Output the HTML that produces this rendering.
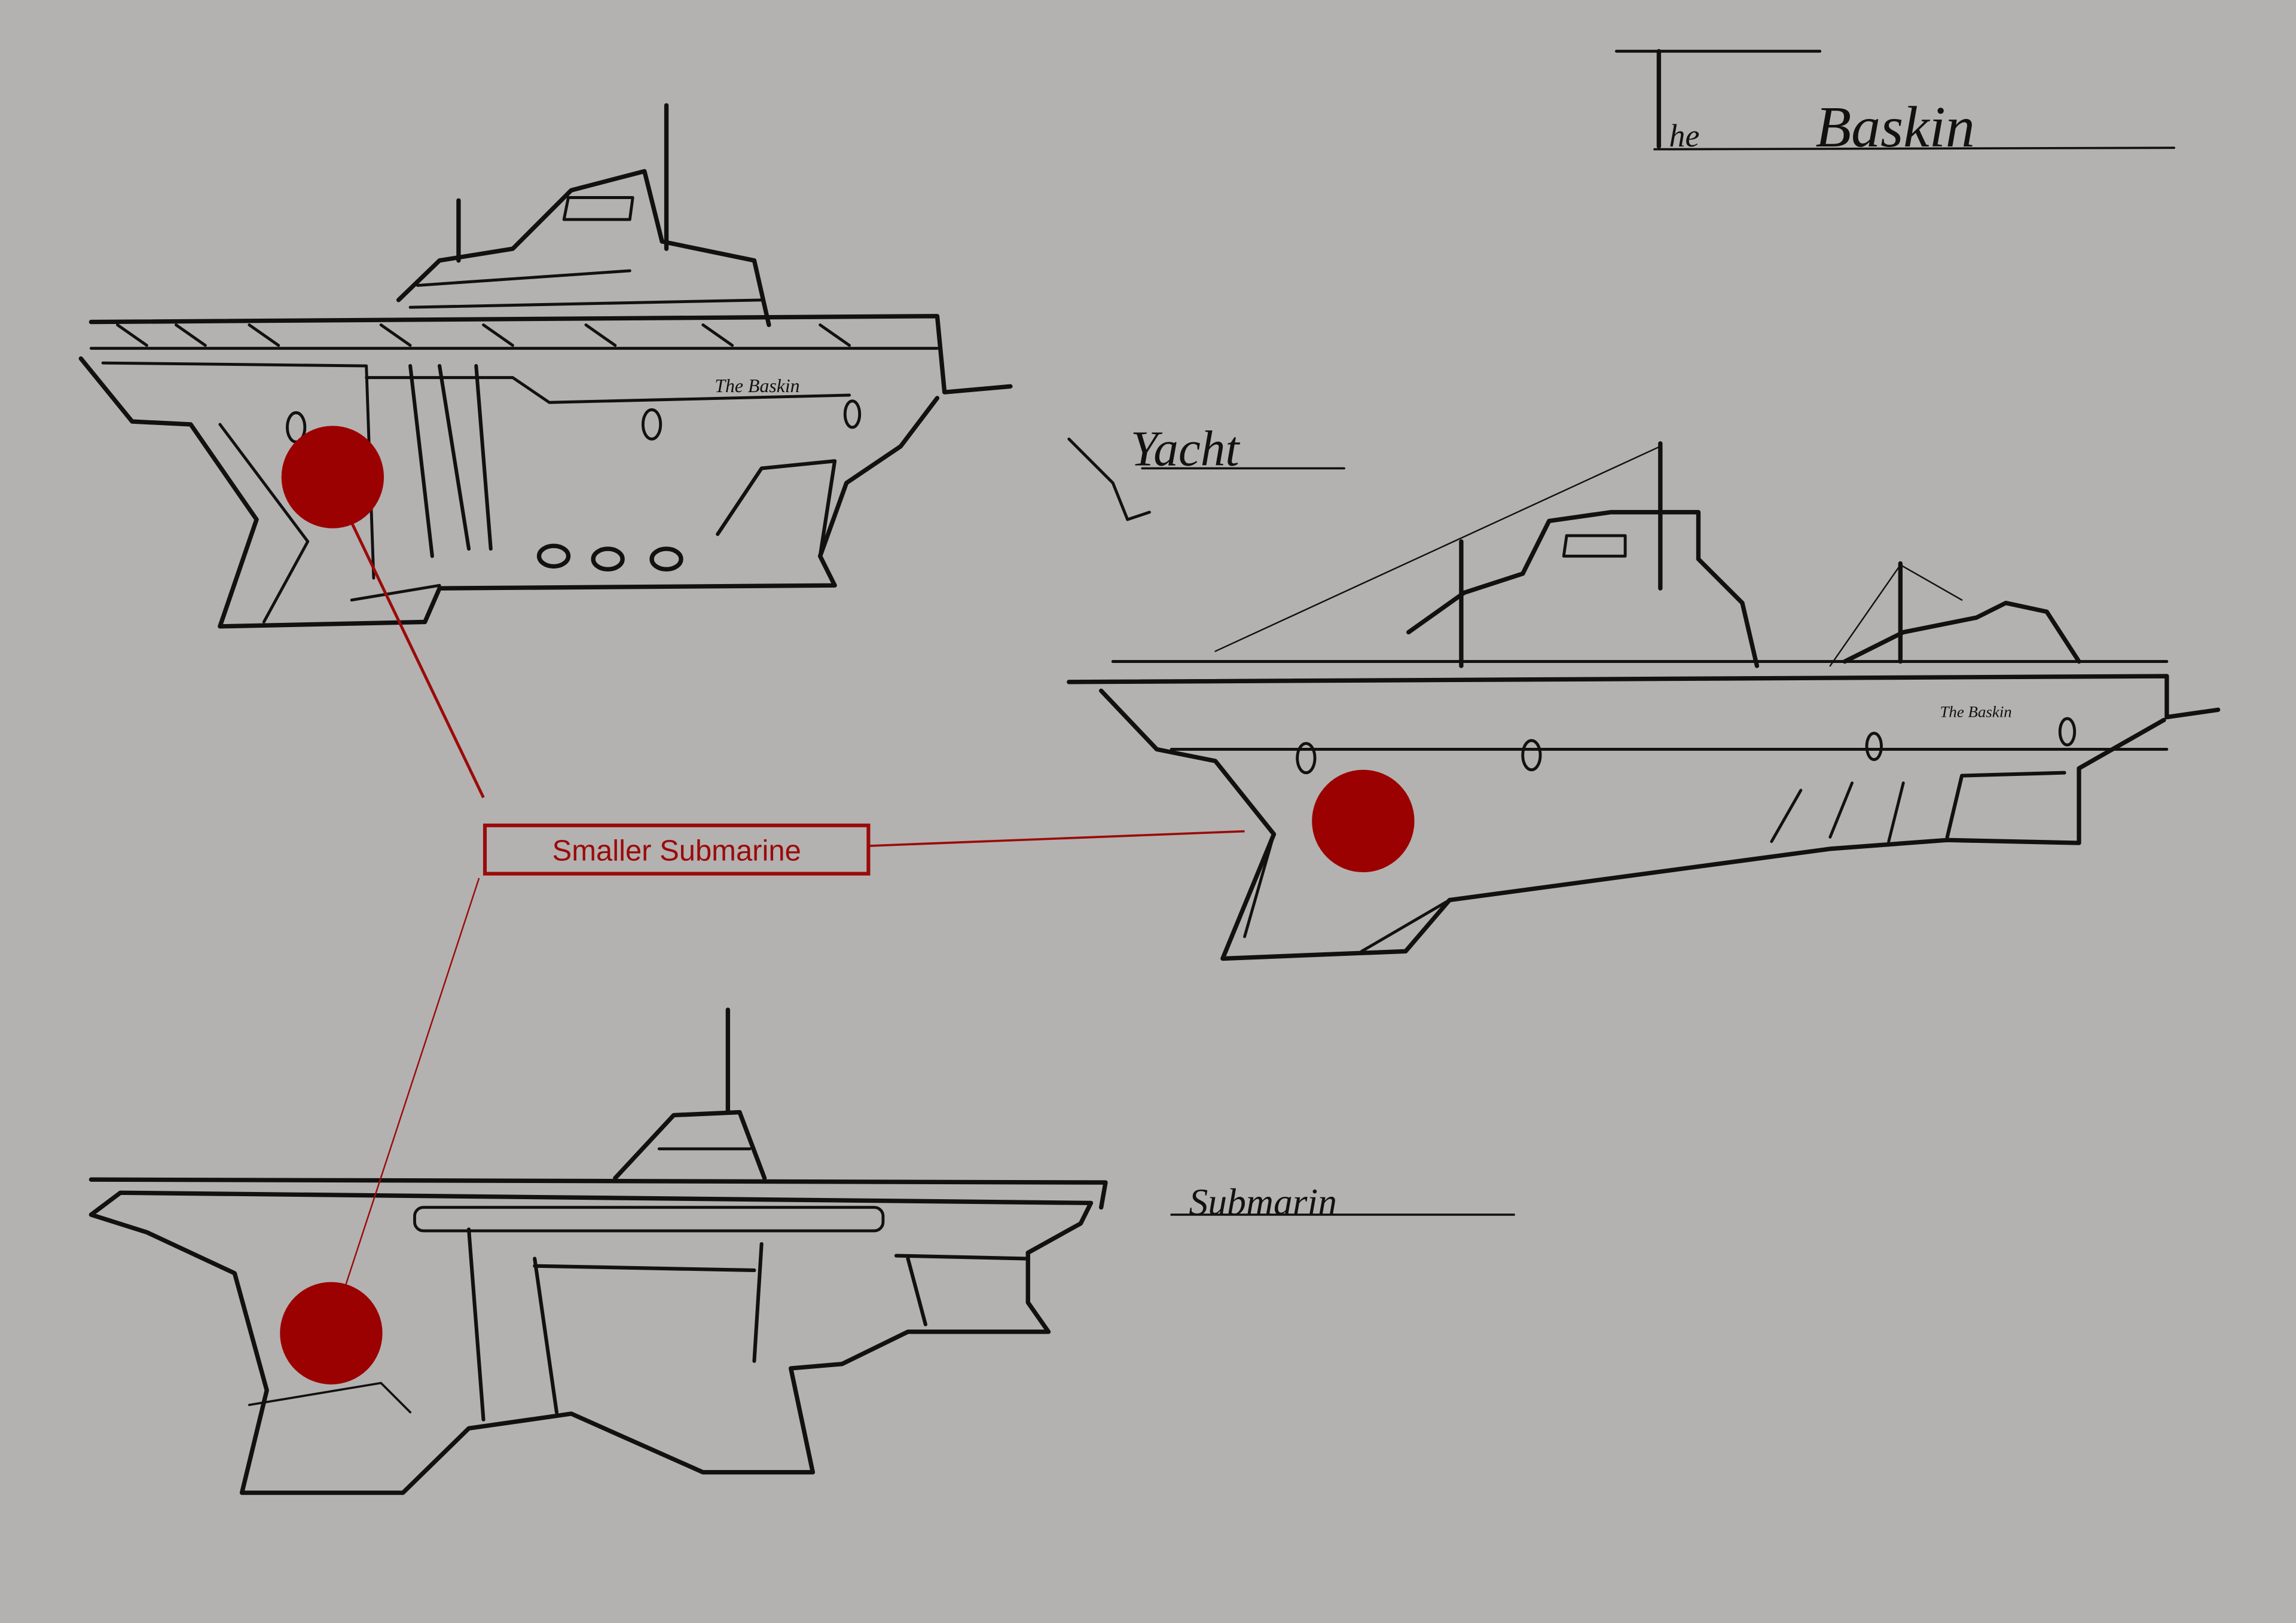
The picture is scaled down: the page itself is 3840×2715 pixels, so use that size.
<!DOCTYPE html>
<html><head><meta charset="utf-8"><style>
html,body{margin:0;padding:0;background:#b3b2b0;}
svg{display:block;}
</style></head><body>
<svg width="3840" height="2715" viewBox="0 0 1568 1109" xmlns="http://www.w3.org/2000/svg">
<rect width="1568" height="1109" fill="#b3b2b0"/>
<g fill="none" stroke="#111" stroke-linejoin="round" stroke-linecap="round">
<!-- Title -->
<line x1="1104" y1="35" x2="1243" y2="35" stroke-width="2"/>
<line x1="1133" y1="35" x2="1133" y2="100" stroke-width="3"/>
<line x1="1130" y1="102" x2="1485" y2="101" stroke-width="1.5"/>
<!-- Ship 1 -->
<g stroke-width="3">
<line x1="455" y1="72" x2="455" y2="170"/>
<line x1="313" y1="137" x2="313" y2="178"/>
<path d="M272,205 L300,178 L350,170 L390,130 L440,117 L452,165 L515,178 L525,222"/>
<path d="M385,150 L430,150 L432,135 L388,135 Z" stroke-width="2"/>
<path d="M280,210 L520,205 M285,195 L430,185" stroke-width="2"/>
<path d="M62,220 L640,216 L645,268 L690,264"/>
<path d="M62,238 L640,238" stroke-width="2"/>
<path d="M55,245 L90,288 L130,290 L175,355 L150,428 L290,425 L300,402 L570,400 L560,380 L578,330 L615,305 L640,272"/>
<path d="M70,248 L250,250 L255,395 M250,258 L350,258 L375,275 L580,270" stroke-width="2"/>
<path d="M280,250 L295,380 M300,250 L320,375 M325,250 L335,375" stroke-width="2.5"/>
<path d="M150,290 L210,370 L180,425 M240,410 L300,400" stroke-width="2"/>
<path d="M490,365 L520,320 L570,315 L560,380" stroke-width="2.5"/>
<ellipse cx="378" cy="380" rx="10" ry="7"/><ellipse cx="415" cy="382" rx="10" ry="7"/><ellipse cx="455" cy="382" rx="10" ry="7"/>
<ellipse cx="202" cy="292" rx="6" ry="10" stroke-width="2"/><ellipse cx="445" cy="290" rx="6" ry="10" stroke-width="2"/><ellipse cx="582" cy="283" rx="5" ry="9" stroke-width="2"/>
<path d="M80,222 L100,236 M120,222 L140,236 M170,222 L190,236 M260,222 L280,236 M330,222 L350,236 M400,222 L420,236 M480,222 L500,236 M560,222 L580,236" stroke-width="2"/>
</g>
<!-- Ship 2 -->
<g stroke-width="3">
<line x1="1134" y1="303" x2="1134" y2="402"/>
<line x1="998" y1="370" x2="998" y2="455"/>
<line x1="1298" y1="385" x2="1298" y2="452"/>
<path d="M830,445 L1134,305 M1250,455 L1298,386 L1340,410" stroke-width="1"/>
<path d="M962,432 L1000,405 L1040,392 L1058,356 L1100,350 L1160,350 L1160,382 L1190,412 L1200,455"/>
<path d="M1068,380 L1110,380 L1110,366 L1070,366 Z" stroke-width="2"/>
<path d="M1260,452 L1300,432 L1350,422 L1370,412 L1398,418 L1420,452"/>
<path d="M730,466 L1480,462 L1480,490 L1515,485"/>
<path d="M760,452 L1480,452" stroke-width="2"/>
<path d="M752,472 L790,512 L830,520 L870,570 L835,655 L960,650 L990,615 L1250,580 L1330,574 L1420,576 L1420,525 L1478,492"/>
<path d="M800,512 L1480,512 M870,570 L850,640 M990,615 L930,650" stroke-width="2"/>
<path d="M1330,572 L1340,530 L1410,528" stroke-width="2.5"/>
<path d="M1210,575 L1230,540 M1250,572 L1265,535 M1290,575 L1300,535" stroke-width="2"/>
<ellipse cx="892" cy="518" rx="6" ry="10" stroke-width="2"/><ellipse cx="1046" cy="516" rx="6" ry="10" stroke-width="2"/><ellipse cx="1280" cy="510" rx="5" ry="9" stroke-width="2"/><ellipse cx="1412" cy="500" rx="5" ry="9" stroke-width="2"/>
</g>
<!-- Submarine -->
<g stroke-width="3">
<line x1="497" y1="690" x2="497" y2="760"/>
<path d="M420,805 L460,762 L505,760 L522,805"/>
<path d="M450,785 L512,785" stroke-width="2"/>
<path d="M62,806 L755,808 L752,825"/>
<path d="M62,830 L82,815 L745,822 L738,836 L702,856 L702,890 L716,910 L620,910 L575,932 L540,935 L555,1006 L480,1006 L390,966 L320,976 L275,1020 L165,1020 L182,950 L160,870 L100,842 Z"/>
<rect x="283" y="825" width="320" height="16" rx="6" stroke-width="2"/>
<path d="M320,840 L330,970 M365,860 L380,965 M520,850 L515,930 M365,865 L515,868" stroke-width="2.5"/>
<path d="M612,858 L700,860 M620,860 L632,905" stroke-width="2.5"/>
<path d="M170,960 L260,945 L280,965" stroke-width="1.5"/>
</g>
<!-- labels lines -->
<path d="M730,300 L760,330 L770,355 L785,350" stroke-width="2"/>
<line x1="780" y1="320" x2="918" y2="320" stroke-width="1.5"/>
<line x1="800" y1="830" x2="1034" y2="830" stroke-width="1.5"/>
</g>
<g font-family="Liberation Serif, serif" fill="#111" font-style="italic">
<text x="1140" y="100" font-size="22">he</text>
<text x="1240" y="100" font-size="40">Baskin</text>
<text x="772" y="318" font-size="34">Yacht</text>
<text x="812" y="830" font-size="26">Submarin</text>
<text x="488" y="268" font-size="13">The Baskin</text>
<text x="1325" y="490" font-size="11">The Baskin</text>
</g>
<!-- red annotation -->
<g stroke="#9b0a0a" fill="none">
<line x1="227" y1="330" x2="330" y2="545" stroke-width="2"/>
<line x1="593" y1="578" x2="850" y2="568" stroke-width="1.5"/>
<line x1="327" y1="600" x2="232" y2="890" stroke-width="1"/>
<rect x="331" y="564" width="262" height="33" stroke-width="2.5"/>
</g>
<circle cx="227" cy="326" r="35" fill="#9b0101"/>
<circle cx="931" cy="561" r="35" fill="#9b0101"/>
<circle cx="226" cy="911" r="35" fill="#9b0101"/>
<text x="462" y="588" text-anchor="middle" font-family="Liberation Sans, sans-serif" font-size="20" fill="#9b0a0a">Smaller Submarine</text>
</svg>
</body></html>
